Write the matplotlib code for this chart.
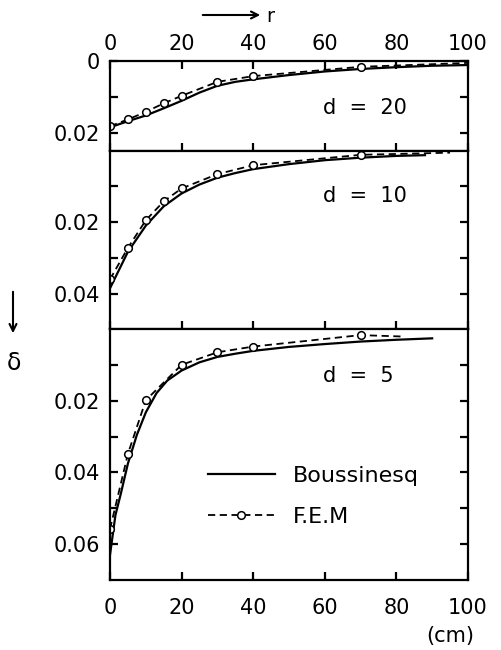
import numpy as np
import matplotlib
matplotlib.use("Agg")
import matplotlib.pyplot as plt

plt.rcParams['font.family'] = ['DejaVu Sans']

# r in cm, deflection delta for three plate depths d
depths = [20, 10, 5]

r_bous_20 = [0, 5, 10, 15, 20, 25, 30, 35, 40, 50, 60, 70, 80, 90, 100]
bous_20 = [0.0185, 0.0168, 0.0152, 0.0132, 0.0111, 0.0088, 0.0069, 0.0058,
           0.0051, 0.0039, 0.0029, 0.0022, 0.0017, 0.0013, 0.0011]
r_fem_20 = [0, 5, 10, 15, 20, 30, 40, 70, 100]
fem_20 = [0.0182, 0.0163, 0.0142, 0.0118, 0.0097, 0.0058, 0.0042, 0.0016, 0.0005]

r_bous_10 = [0, 5, 10, 15, 20, 25, 30, 35, 40, 50, 60, 70, 80, 88]
bous_10 = [0.0385, 0.0283, 0.0210, 0.0156, 0.0120, 0.0095, 0.0076, 0.0063,
           0.0052, 0.0038, 0.0027, 0.0020, 0.0015, 0.0013]
r_fem_10 = [0, 5, 10, 15, 20, 30, 40, 70, 95]
fem_10 = [0.0360, 0.0272, 0.0195, 0.0142, 0.0106, 0.0066, 0.0041, 0.0012, 0.0006]

r_bous_5 = [0, 1.5, 3, 5, 7.5, 10, 13, 16, 20, 25, 30, 35, 40, 50, 60, 70, 80, 90]
bous_5 = [0.0630, 0.0520, 0.0460, 0.0375, 0.0295, 0.0232, 0.0178, 0.0143, 0.0115,
          0.0092, 0.0077, 0.0068, 0.0060, 0.0049, 0.0041, 0.0034, 0.0029, 0.0025]
r_fem_5 = [0, 5, 10, 20, 30, 40, 70, 82]
fem_5 = [0.0558, 0.0348, 0.0198, 0.0099, 0.0064, 0.0048, 0.0016, 0.0020]

bous_r = [r_bous_20, r_bous_10, r_bous_5]
bous_d = [bous_20, bous_10, bous_5]
fem_r = [r_fem_20, r_fem_10, r_fem_5]
fem_d = [fem_20, fem_10, fem_5]

ylims = [0.025, 0.05, 0.07]
yticks = [[0, 0.01, 0.02], [0.01, 0.02, 0.03, 0.04], [0.01, 0.02, 0.03, 0.04, 0.05, 0.06]]
ylabels = [['0', '', '0.02'], ['', '0.02', '', '0.04'], ['', '0.02', '', '0.04', '', '0.06']]
xticks = [0, 20, 40, 60, 80, 100]
text_y = [0.47, 0.743, 0.815]

fig = plt.figure(figsize=(5.01, 6.5), dpi=100)
gs = fig.add_gridspec(3, 1, height_ratios=ylims, hspace=0,
                      left=0.2196, right=0.934, top=0.906, bottom=0.108)

fs = 15
for i in range(3):
    ax = fig.add_subplot(gs[i])
    l1, = ax.plot(bous_r[i], bous_d[i], 'k-', lw=1.6, label='Boussinesq')
    n = len(fem_r[i])
    l2, = ax.plot(fem_r[i], fem_d[i], color='k', ls=(0, (4, 2.5)), lw=1.3,
                  marker='o', ms=5.5, mfc='white', mec='k', mew=1.1,
                  markevery=list(range(n - 1)), label='F.E.M')
    ax.set_xlim(0, 100)
    ax.set_ylim(ylims[i], 0)
    ax.set_yticks(yticks[i])
    ax.set_yticklabels(ylabels[i])
    ax.set_xticks(xticks)
    for s in ax.spines.values():
        s.set_linewidth(1.6)
    ax.tick_params(direction='in', length=6, width=1.6, labelsize=fs,
                   left=True, right=True, bottom=True)
    ax.tick_params(axis='y', pad=7)
    if i == 0:
        ax.tick_params(axis='x', top=True, labeltop=True, labelbottom=False, pad=5)
    elif i == 1:
        ax.tick_params(axis='x', labelbottom=False)
    else:
        ax.tick_params(axis='x', pad=13)
        ax.legend(handles=[l1, l2], loc='upper left', bbox_to_anchor=(0.274, 0.455),
                  frameon=False, fontsize=16, handlelength=3, handletextpad=0.8,
                  labelspacing=0.95, borderpad=0, borderaxespad=0, numpoints=1)
    ax.text(0.595, text_y[i], 'd  =  %d' % depths[i], transform=ax.transAxes,
            fontsize=fs, ha='left', va='center')

# axis direction markers
fig.text(266 / 501, 1 - 16 / 650, 'r', fontsize=14, ha='left', va='center')
plt.annotate('', xy=(263 / 501, 1 - 15 / 650), xytext=(200 / 501, 1 - 15 / 650),
             xycoords='figure fraction',
             arrowprops=dict(arrowstyle='->,head_length=0.5,head_width=0.25', lw=1.5, color='k'))
plt.annotate('', xy=(13 / 501, 1 - 336 / 650), xytext=(13 / 501, 1 - 289 / 650),
             xycoords='figure fraction',
             arrowprops=dict(arrowstyle='->,head_length=0.5,head_width=0.25', lw=1.5, color='k'))
fig.text(14 / 501, 1 - 363 / 650, 'δ', fontsize=17, ha='center', va='center')
fig.text(450 / 501, 1 - 636 / 650, '(cm)', fontsize=15, ha='center', va='center')

fig.savefig('out.png', dpi=100)
